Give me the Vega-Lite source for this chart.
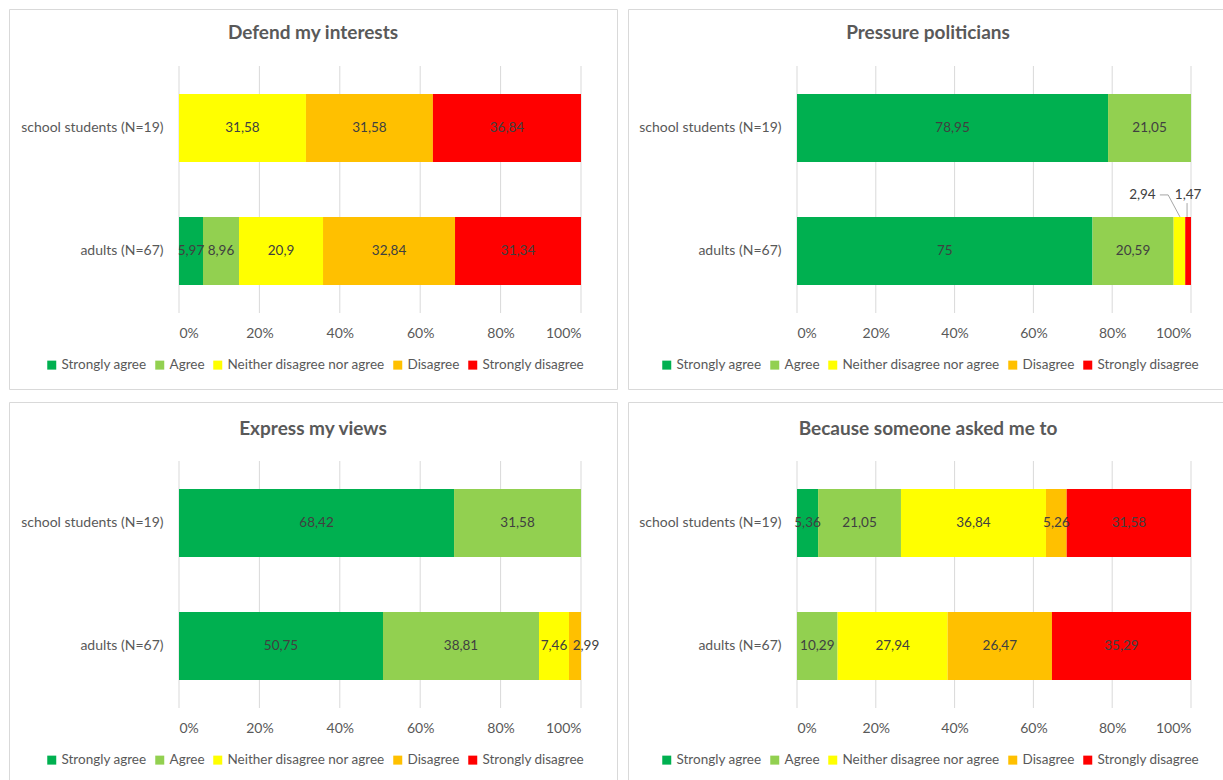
{
  "$schema": "https://vega.github.io/schema/vega-lite/v6.json",
  "padding": {"left": 8, "top": 8, "right": 0, "bottom": 0},
  "background": "white",
  "config": {
    "font": "Lato",
    "view": {"stroke": "#d9d9d9", "strokeWidth": 1},
    "title": {"fontSize": 19, "fontWeight": "bold", "color": "#595959", "anchor": "middle", "frame": "group", "font": "Lato", "baseline": "middle", "offset": -34},
    "axis": {"labelFont": "Lato", "labelFontSize": 14, "labelColor": "#595959", "ticks": false, "domain": false, "grid": false},
    "legend": {"symbolType": "square", "symbolSize": 81, "symbolStrokeWidth": 0, "labelFontSize": 13.5, "labelColor": "#595959", "labelFont": "Lato", "columnPadding": 6, "labelOffset": 3}
  },
  "datasets": {
    "ticks": [{"t": 0}, {"t": 0.2}, {"t": 0.4}, {"t": 0.6}, {"t": 0.8}, {"t": 1}],
    "resp": [
      {"chart": "Defend my interests", "group": "school students (N=19)", "response": "Neither disagree nor agree", "value": 31.58},
      {"chart": "Defend my interests", "group": "school students (N=19)", "response": "Disagree", "value": 31.58},
      {"chart": "Defend my interests", "group": "school students (N=19)", "response": "Strongly disagree", "value": 36.84},
      {"chart": "Defend my interests", "group": "adults (N=67)", "response": "Strongly agree", "value": 5.97},
      {"chart": "Defend my interests", "group": "adults (N=67)", "response": "Agree", "value": 8.96},
      {"chart": "Defend my interests", "group": "adults (N=67)", "response": "Neither disagree nor agree", "value": 20.9},
      {"chart": "Defend my interests", "group": "adults (N=67)", "response": "Disagree", "value": 32.84},
      {"chart": "Defend my interests", "group": "adults (N=67)", "response": "Strongly disagree", "value": 31.34},
      {"chart": "Pressure politicians", "group": "school students (N=19)", "response": "Strongly agree", "value": 78.95},
      {"chart": "Pressure politicians", "group": "school students (N=19)", "response": "Agree", "value": 21.05},
      {"chart": "Pressure politicians", "group": "adults (N=67)", "response": "Strongly agree", "value": 75},
      {"chart": "Pressure politicians", "group": "adults (N=67)", "response": "Agree", "value": 20.59},
      {"chart": "Pressure politicians", "group": "adults (N=67)", "response": "Neither disagree nor agree", "value": 2.94},
      {"chart": "Pressure politicians", "group": "adults (N=67)", "response": "Strongly disagree", "value": 1.47},
      {"chart": "Express my views", "group": "school students (N=19)", "response": "Strongly agree", "value": 68.42},
      {"chart": "Express my views", "group": "school students (N=19)", "response": "Agree", "value": 31.58},
      {"chart": "Express my views", "group": "adults (N=67)", "response": "Strongly agree", "value": 50.75},
      {"chart": "Express my views", "group": "adults (N=67)", "response": "Agree", "value": 38.81},
      {"chart": "Express my views", "group": "adults (N=67)", "response": "Neither disagree nor agree", "value": 7.46},
      {"chart": "Express my views", "group": "adults (N=67)", "response": "Disagree", "value": 2.99},
      {"chart": "Because someone asked me to", "group": "school students (N=19)", "response": "Strongly agree", "value": 5.36},
      {"chart": "Because someone asked me to", "group": "school students (N=19)", "response": "Agree", "value": 21.05},
      {"chart": "Because someone asked me to", "group": "school students (N=19)", "response": "Neither disagree nor agree", "value": 36.84},
      {"chart": "Because someone asked me to", "group": "school students (N=19)", "response": "Disagree", "value": 5.26},
      {"chart": "Because someone asked me to", "group": "school students (N=19)", "response": "Strongly disagree", "value": 31.58},
      {"chart": "Because someone asked me to", "group": "adults (N=67)", "response": "Agree", "value": 10.29},
      {"chart": "Because someone asked me to", "group": "adults (N=67)", "response": "Neither disagree nor agree", "value": 27.94},
      {"chart": "Because someone asked me to", "group": "adults (N=67)", "response": "Disagree", "value": 26.47},
      {"chart": "Because someone asked me to", "group": "adults (N=67)", "response": "Strongly disagree", "value": 35.29}
    ]
  },
  "columns": 2,
  "spacing": {"row": 11, "column": 9},
  "resolve": {"scale": {"x": "independent", "y": "independent", "color": "independent"}, "legend": {"color": "independent"}},
  "concat": [
    {
      "width": 608, "height": 380,
      "title": {"text": "Defend my interests"},
      "layer": [
        {"layer": [
          {"data": {"name": "ticks"}, "mark": {"type": "rule", "color": "#d9d9d9"},
           "encoding": {
             "x": {"field": "t", "type": "quantitative", "scale": {"domain": [0, 1], "range": [170, 572]}, "axis": {"values": [0, 0.2, 0.4, 0.6, 0.8, 1], "format": "%", "offset": -76, "labelPadding": 13, "title": null}},
             "y": {"datum": 0, "type": "quantitative", "scale": {"domain": [0, 1], "range": [57, 304]}, "axis": null},
             "y2": {"datum": 1}}}
        ]},
        {"data": {"name": "resp"},
         "transform": [
           {"filter": "datum.chart === 'Defend my interests'"},
           {"calculate": "indexof(['Strongly agree','Agree','Neither disagree nor agree','Disagree','Strongly disagree'], datum.response)", "as": "ord"},
           {"stack": "value", "groupby": ["group"], "sort": [{"field": "ord", "order": "ascending"}], "offset": "normalize", "as": ["v0", "v1"]},
           {"calculate": "(datum.v0 + datum.v1) / 2", "as": "mid"},
           {"calculate": "replace(format(datum.value, '.2~f'), '.', ',')", "as": "label"}
         ],
         "layer": [
           {"mark": {"type": "bar"},
            "encoding": {
              "y": {"field": "group", "type": "nominal", "sort": ["school students (N=19)", "adults (N=67)"], "scale": {"range": [57, 304], "paddingInner": 0.447, "paddingOuter": 0.228}, "axis": {"orient": "left", "offset": -170, "labelPadding": 16, "title": null}},
              "x": {"field": "v0", "type": "quantitative", "title": null},
              "x2": {"field": "v1"},
              "color": {"field": "response", "type": "nominal",
                "scale": {"domain": ["Strongly agree", "Agree", "Neither disagree nor agree", "Disagree", "Strongly disagree"], "range": ["#00b050", "#92d050", "#ffff00", "#ffc000", "#ff0000"]},
                "legend": {"title": null, "orient": "none", "legendX": 36, "legendY": 349, "direction": "horizontal"}}}},
           {"mark": {"type": "text", "fontSize": 13.5, "color": "#404040"},
            "encoding": {
              "x": {"field": "mid", "type": "quantitative", "title": null},
              "y": {"field": "group", "type": "nominal", "sort": ["school students (N=19)", "adults (N=67)"], "title": null},
              "text": {"field": "label"}}}
         ]}
      ],
      "resolve": {"scale": {"y": "independent"}}
    },
    {
      "width": 600, "height": 380,
      "title": {"text": "Pressure politicians"},
      "layer": [
        {"layer": [
          {"data": {"name": "ticks"}, "mark": {"type": "rule", "color": "#d9d9d9"},
           "encoding": {
             "x": {"field": "t", "type": "quantitative", "scale": {"domain": [0, 1], "range": [169, 563]}, "axis": {"values": [0, 0.2, 0.4, 0.6, 0.8, 1], "format": "%", "offset": -76, "labelPadding": 13, "title": null}},
             "y": {"datum": 0, "type": "quantitative", "scale": {"domain": [0, 1], "range": [57, 304]}, "axis": null},
             "y2": {"datum": 1}}},
          {"data": {"values": [{}]}, "mark": {"type": "rule", "color": "#a6a6a6"},
           "encoding": {"x": {"datum": 0.921, "type": "quantitative"}, "x2": {"datum": 0.942}, "y": {"datum": 0.522, "type": "quantitative"}, "y2": {"datum": 0.522}}},
          {"data": {"values": [{}]}, "mark": {"type": "rule", "color": "#a6a6a6"},
           "encoding": {"x": {"datum": 0.942, "type": "quantitative"}, "x2": {"datum": 0.972}, "y": {"datum": 0.522, "type": "quantitative"}, "y2": {"datum": 0.611}}},
          {"data": {"values": [{}]}, "mark": {"type": "rule", "color": "#a6a6a6"},
           "encoding": {"x": {"datum": 0.99, "type": "quantitative"}, "y": {"datum": 0.555, "type": "quantitative"}, "y2": {"datum": 0.611}}}
        ]},
        {"data": {"name": "resp"},
         "transform": [
           {"filter": "datum.chart === 'Pressure politicians'"},
           {"calculate": "indexof(['Strongly agree','Agree','Neither disagree nor agree','Disagree','Strongly disagree'], datum.response)", "as": "ord"},
           {"stack": "value", "groupby": ["group"], "sort": [{"field": "ord", "order": "ascending"}], "offset": "normalize", "as": ["v0", "v1"]},
           {"calculate": "(datum.v0 + datum.v1) / 2", "as": "mid"},
           {"calculate": "replace(format(datum.value, '.2~f'), '.', ',')", "as": "label"}
         ],
         "layer": [
           {"mark": {"type": "bar"},
            "encoding": {
              "y": {"field": "group", "type": "nominal", "sort": ["school students (N=19)", "adults (N=67)"], "scale": {"range": [57, 304], "paddingInner": 0.447, "paddingOuter": 0.228}, "axis": {"orient": "left", "offset": -169, "labelPadding": 16, "title": null}},
              "x": {"field": "v0", "type": "quantitative", "title": null},
              "x2": {"field": "v1"},
              "color": {"field": "response", "type": "nominal",
                "scale": {"domain": ["Strongly agree", "Agree", "Neither disagree nor agree", "Disagree", "Strongly disagree"], "range": ["#00b050", "#92d050", "#ffff00", "#ffc000", "#ff0000"]},
                "legend": {"title": null, "orient": "none", "legendX": 32, "legendY": 349, "direction": "horizontal"}}}},
           {"transform": [{"filter": "datum.value >= 5"}],
            "mark": {"type": "text", "fontSize": 13.5, "color": "#404040"},
            "encoding": {
              "x": {"field": "mid", "type": "quantitative", "title": null},
              "y": {"field": "group", "type": "nominal", "sort": ["school students (N=19)", "adults (N=67)"], "title": null},
              "text": {"field": "label"}}},
           {"transform": [{"filter": "datum.response === 'Neither disagree nor agree'"}],
            "mark": {"type": "text", "fontSize": 13.5, "color": "#404040", "dx": -37, "dy": -56},
            "encoding": {
              "x": {"field": "mid", "type": "quantitative", "title": null},
              "y": {"field": "group", "type": "nominal", "sort": ["school students (N=19)", "adults (N=67)"], "title": null},
              "text": {"field": "label"}}},
           {"transform": [{"filter": "datum.response === 'Strongly disagree'"}],
            "mark": {"type": "text", "fontSize": 13.5, "color": "#404040", "dx": 0, "dy": -56},
            "encoding": {
              "x": {"field": "mid", "type": "quantitative", "title": null},
              "y": {"field": "group", "type": "nominal", "sort": ["school students (N=19)", "adults (N=67)"], "title": null},
              "text": {"field": "label"}}}
         ]}
      ],
      "resolve": {"scale": {"y": "independent"}}
    },
    {
      "width": 608, "height": 380,
      "title": {"text": "Express my views", "offset": -37},
      "layer": [
        {"layer": [
          {"data": {"name": "ticks"}, "mark": {"type": "rule", "color": "#d9d9d9"},
           "encoding": {
             "x": {"field": "t", "type": "quantitative", "scale": {"domain": [0, 1], "range": [170, 572]}, "axis": {"values": [0, 0.2, 0.4, 0.6, 0.8, 1], "format": "%", "offset": -74, "labelPadding": 13, "title": null}},
             "y": {"datum": 0, "type": "quantitative", "scale": {"domain": [0, 1], "range": [59, 306]}, "axis": null},
             "y2": {"datum": 1}}}
        ]},
        {"data": {"name": "resp"},
         "transform": [
           {"filter": "datum.chart === 'Express my views'"},
           {"calculate": "indexof(['Strongly agree','Agree','Neither disagree nor agree','Disagree','Strongly disagree'], datum.response)", "as": "ord"},
           {"stack": "value", "groupby": ["group"], "sort": [{"field": "ord", "order": "ascending"}], "offset": "normalize", "as": ["v0", "v1"]},
           {"calculate": "(datum.v0 + datum.v1) / 2", "as": "mid"},
           {"calculate": "replace(format(datum.value, '.2~f'), '.', ',')", "as": "label"}
         ],
         "layer": [
           {"mark": {"type": "bar"},
            "encoding": {
              "y": {"field": "group", "type": "nominal", "sort": ["school students (N=19)", "adults (N=67)"], "scale": {"range": [59, 306], "paddingInner": 0.447, "paddingOuter": 0.228}, "axis": {"orient": "left", "offset": -170, "labelPadding": 16, "title": null}},
              "x": {"field": "v0", "type": "quantitative", "title": null},
              "x2": {"field": "v1"},
              "color": {"field": "response", "type": "nominal",
                "scale": {"domain": ["Strongly agree", "Agree", "Neither disagree nor agree", "Disagree", "Strongly disagree"], "range": ["#00b050", "#92d050", "#ffff00", "#ffc000", "#ff0000"]},
                "legend": {"title": null, "orient": "none", "legendX": 36, "legendY": 351, "direction": "horizontal"}}}},
           {"transform": [{"filter": "datum.response !== 'Disagree'"}],
            "mark": {"type": "text", "fontSize": 13.5, "color": "#404040"},
            "encoding": {
              "x": {"field": "mid", "type": "quantitative", "title": null},
              "y": {"field": "group", "type": "nominal", "sort": ["school students (N=19)", "adults (N=67)"], "title": null},
              "text": {"field": "label"}}},
           {"transform": [{"filter": "datum.response === 'Disagree'"}],
            "mark": {"type": "text", "fontSize": 13.5, "color": "#404040", "dx": 11},
            "encoding": {
              "x": {"field": "mid", "type": "quantitative", "title": null},
              "y": {"field": "group", "type": "nominal", "sort": ["school students (N=19)", "adults (N=67)"], "title": null},
              "text": {"field": "label"}}}
         ]}
      ],
      "resolve": {"scale": {"y": "independent"}}
    },
    {
      "width": 600, "height": 380,
      "title": {"text": "Because someone asked me to", "offset": -37},
      "layer": [
        {"layer": [
          {"data": {"name": "ticks"}, "mark": {"type": "rule", "color": "#d9d9d9"},
           "encoding": {
             "x": {"field": "t", "type": "quantitative", "scale": {"domain": [0, 1], "range": [169, 563]}, "axis": {"values": [0, 0.2, 0.4, 0.6, 0.8, 1], "format": "%", "offset": -74, "labelPadding": 13, "title": null}},
             "y": {"datum": 0, "type": "quantitative", "scale": {"domain": [0, 1], "range": [59, 306]}, "axis": null},
             "y2": {"datum": 1}}}
        ]},
        {"data": {"name": "resp"},
         "transform": [
           {"filter": "datum.chart === 'Because someone asked me to'"},
           {"calculate": "indexof(['Strongly agree','Agree','Neither disagree nor agree','Disagree','Strongly disagree'], datum.response)", "as": "ord"},
           {"stack": "value", "groupby": ["group"], "sort": [{"field": "ord", "order": "ascending"}], "offset": "normalize", "as": ["v0", "v1"]},
           {"calculate": "(datum.v0 + datum.v1) / 2", "as": "mid"},
           {"calculate": "replace(format(datum.value, '.2~f'), '.', ',')", "as": "label"}
         ],
         "layer": [
           {"mark": {"type": "bar"},
            "encoding": {
              "y": {"field": "group", "type": "nominal", "sort": ["school students (N=19)", "adults (N=67)"], "scale": {"range": [59, 306], "paddingInner": 0.447, "paddingOuter": 0.228}, "axis": {"orient": "left", "offset": -169, "labelPadding": 16, "title": null}},
              "x": {"field": "v0", "type": "quantitative", "title": null},
              "x2": {"field": "v1"},
              "color": {"field": "response", "type": "nominal",
                "scale": {"domain": ["Strongly agree", "Agree", "Neither disagree nor agree", "Disagree", "Strongly disagree"], "range": ["#00b050", "#92d050", "#ffff00", "#ffc000", "#ff0000"]},
                "legend": {"title": null, "orient": "none", "legendX": 32, "legendY": 351, "direction": "horizontal"}}}},
           {"mark": {"type": "text", "fontSize": 13.5, "color": "#404040"},
            "encoding": {
              "x": {"field": "mid", "type": "quantitative", "title": null},
              "y": {"field": "group", "type": "nominal", "sort": ["school students (N=19)", "adults (N=67)"], "title": null},
              "text": {"field": "label"}}}
         ]}
      ],
      "resolve": {"scale": {"y": "independent"}}
    }
  ]
}
